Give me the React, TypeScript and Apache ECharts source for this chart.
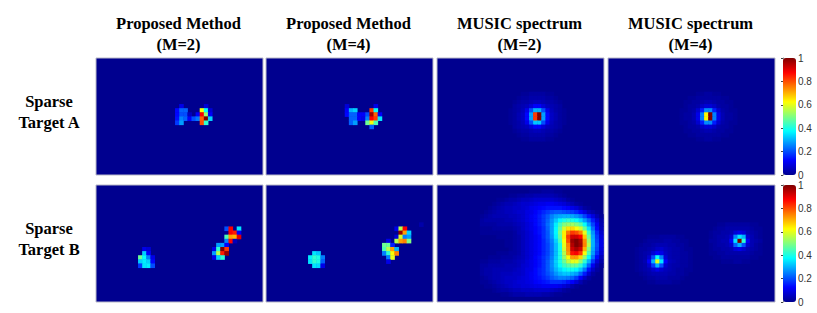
import React, { useEffect, useRef } from "react";
import * as echarts from "echarts";

const columnTitles = ["Proposed Method", "Proposed Method", "MUSIC spectrum", "MUSIC spectrum"];
const columnSubtitles = ["(M=2)", "(M=4)", "(M=2)", "(M=4)"];
const rowTitles = [["Sparse", "Target A"], ["Sparse", "Target B"]];
const COLS = 40;
const ROWS = 28;
const colIndex = Array.from({ length: COLS }, (_, i) => String(i));
const rowIndex = Array.from({ length: ROWS }, (_, i) => String(i));
const jet = ["#00008f", "#0000ff", "#0080ff", "#00ffff", "#80ff80", "#ffff00", "#ff8000", "#ff0000", "#800000"];

type Cell = [number, number, number];

// [column, row, value]
const proposedAM2: Cell[] = [
  [20, 11, 0.1], [26, 11, 0.08],
  [19, 12, 0.13], [20, 12, 0.22], [21, 12, 0.22], [25, 12, 0.62], [26, 12, 0.38], [27, 12, 0.08],
  [19, 13, 0.13], [20, 13, 0.2], [21, 13, 0.2], [22, 13, 0.05], [24, 13, 0.12], [25, 13, 0.88], [26, 13, 0.52], [27, 13, 0.12],
  [19, 14, 0.14], [20, 14, 0.25], [21, 14, 0.22], [22, 14, 0.12], [23, 14, 0.2], [24, 14, 0.24], [25, 14, 0.78], [26, 14, 1], [27, 14, 0.33],
  [19, 15, 0.18], [20, 15, 0.28], [25, 15, 0.8], [26, 15, 0.42],
];
const proposedAM4: Cell[] = [
  [19, 11, 0.08], [26, 11, 0.1],
  [19, 12, 0.12], [20, 12, 0.3], [21, 12, 0.33], [25, 12, 0.82], [26, 12, 0.38],
  [19, 13, 0.13], [20, 13, 0.22], [21, 13, 0.22], [22, 13, 0.12], [23, 13, 0.12], [24, 13, 0.2], [25, 13, 0.97], [26, 13, 0.78], [27, 13, 0.12],
  [20, 14, 0.22], [21, 14, 0.22], [22, 14, 0.12], [23, 14, 0.1], [24, 14, 0.25], [25, 14, 0.88], [26, 14, 0.82], [27, 14, 0.35],
  [20, 15, 0.22], [21, 15, 0.28], [24, 15, 0.48], [25, 15, 0.62], [26, 15, 0.45],
  [25, 16, 0.22],
];
const proposedBM2: Cell[] = [
  [31, 10, 0.2], [32, 10, 0.88], [34, 10, 0.35],
  [32, 11, 0.88], [33, 11, 0.85], [34, 11, 0.12],
  [31, 12, 0.45], [32, 12, 0.72], [33, 12, 0.7], [34, 12, 0.9],
  [31, 13, 0.25], [32, 13, 0.87], [33, 13, 0.05],
  [29, 14, 0.28], [30, 14, 0.28], [31, 14, 0.12],
  [28, 15, 0.1], [29, 15, 0.42], [30, 15, 1], [31, 15, 0.82],
  [28, 16, 0.28], [29, 16, 0.55], [30, 16, 0.85], [31, 16, 0.98],
  [28, 17, 0.1], [29, 17, 0.33], [30, 17, 0.42],
  [11, 15, 0.1], [12, 15, 0.08],
  [11, 16, 0.33], [12, 16, 0.12],
  [10, 17, 0.48], [11, 17, 0.38], [12, 17, 0.25], [13, 17, 0.1],
  [10, 18, 0.33], [11, 18, 0.36], [12, 18, 0.33], [13, 18, 0.13],
  [10, 19, 0.18], [11, 19, 0.35], [12, 19, 0.36], [13, 19, 0.2],
];
const proposedBM4: Cell[] = [
  [37, 9, 0.03],
  [31, 10, 0.1], [32, 10, 0.55], [33, 10, 0.88],
  [32, 11, 0.98], [33, 11, 0.72], [34, 11, 0.33],
  [31, 12, 0.08], [32, 12, 0.58], [33, 12, 0.25], [34, 12, 0.28],
  [29, 13, 0.1], [31, 13, 0.55], [32, 13, 0.72], [33, 13, 0.75], [34, 13, 0.5],
  [28, 14, 0.48], [29, 14, 0.48], [30, 14, 0.15],
  [28, 15, 0.45], [29, 15, 0.55], [30, 15, 0.72], [31, 15, 0.3],
  [28, 16, 0.25], [29, 16, 0.42], [30, 16, 0.62], [31, 16, 0.75],
  [29, 17, 0.25], [30, 17, 0.6],
  [29, 18, 0.1],
  [11, 16, 0.35], [12, 16, 0.32],
  [10, 17, 0.36], [11, 17, 0.42], [12, 17, 0.4], [13, 17, 0.25],
  [10, 18, 0.35], [11, 18, 0.42], [12, 18, 0.4], [13, 18, 0.22],
  [11, 19, 0.35], [12, 19, 0.34], [13, 19, 0.1],
];

// percent values; each block starts at the given column and row
const musicAM2Start = [17, 8];
const musicAM2 = [
  [0, 0, 0, 1, 1, 2, 2, 2, 2, 1, 1, 0, 0, 0],
  [0, 0, 1, 2, 2, 3, 3, 3, 3, 2, 2, 1, 0, 0],
  [0, 1, 2, 3, 3, 4, 5, 5, 4, 3, 3, 2, 1, 0],
  [0, 2, 3, 4, 5, 8, 12, 12, 8, 5, 4, 3, 2, 0],
  [1, 2, 3, 5, 10, 20, 30, 30, 20, 10, 5, 3, 2, 1],
  [1, 2, 4, 6, 13, 28, 82, 100, 28, 13, 6, 4, 2, 1],
  [1, 2, 4, 6, 13, 28, 82, 100, 28, 13, 6, 4, 2, 1],
  [1, 2, 3, 5, 10, 20, 32, 32, 20, 10, 5, 3, 2, 1],
  [0, 2, 3, 4, 5, 8, 12, 12, 8, 5, 4, 3, 2, 0],
  [0, 1, 2, 3, 3, 4, 5, 5, 4, 3, 3, 2, 1, 0],
  [0, 0, 1, 2, 2, 3, 3, 3, 3, 2, 2, 1, 0, 0],
  [0, 0, 0, 1, 1, 2, 2, 2, 2, 1, 1, 0, 0, 0],
];
const musicAM4Start = [17, 8];
const musicAM4 = [
  [0, 0, 0, 0, 1, 1, 2, 2, 1, 1, 0, 0, 0, 0],
  [0, 0, 1, 1, 2, 2, 2, 2, 2, 2, 1, 1, 0, 0],
  [0, 1, 1, 2, 2, 3, 4, 4, 3, 2, 2, 1, 1, 0],
  [0, 1, 2, 2, 3, 6, 8, 8, 6, 3, 2, 2, 1, 0],
  [1, 1, 2, 3, 7, 15, 26, 26, 15, 7, 3, 2, 1, 1],
  [1, 2, 2, 4, 10, 25, 63, 100, 25, 10, 4, 2, 2, 1],
  [1, 2, 2, 4, 10, 25, 63, 100, 25, 10, 4, 2, 2, 1],
  [1, 1, 2, 3, 7, 15, 26, 26, 15, 7, 3, 2, 1, 1],
  [0, 1, 2, 2, 3, 6, 8, 8, 6, 3, 2, 2, 1, 0],
  [0, 1, 1, 2, 2, 3, 4, 4, 3, 2, 2, 1, 1, 0],
  [0, 0, 1, 1, 2, 2, 2, 2, 2, 2, 1, 1, 0, 0],
  [0, 0, 0, 0, 1, 1, 2, 2, 1, 1, 0, 0, 0, 0],
];
const musicBM2Start = [10, 1];
const musicBM2 = [
  [0, 0, 0, 0, 0, 0, 0, 0, 0, 0, 0, 0, 1, 1, 1, 2, 2, 2, 1, 1, 0, 0, 0, 0, 0, 0, 0, 0, 0, 0],
  [0, 0, 0, 0, 0, 0, 0, 1, 1, 2, 2, 3, 3, 4, 4, 4, 4, 4, 3, 2, 1, 0, 0, 0, 0, 0, 0, 0, 0, 0],
  [0, 0, 0, 0, 1, 1, 2, 3, 3, 4, 5, 5, 6, 7, 7, 7, 7, 7, 6, 5, 4, 2, 1, 0, 0, 0, 0, 0, 0, 0],
  [0, 0, 0, 1, 2, 3, 4, 4, 5, 6, 7, 7, 8, 9, 10, 10, 11, 11, 10, 9, 8, 6, 4, 2, 1, 0, 0, 0, 0, 0],
  [0, 0, 1, 2, 3, 4, 5, 5, 6, 6, 7, 8, 10, 11, 12, 13, 14, 14, 14, 14, 13, 12, 10, 8, 5, 2, 1, 0, 0, 0],
  [0, 1, 2, 3, 4, 4, 5, 5, 6, 7, 7, 9, 10, 12, 14, 16, 18, 20, 21, 21, 20, 19, 18, 16, 13, 9, 5, 3, 1, 0],
  [1, 2, 3, 4, 4, 4, 4, 5, 5, 6, 7, 9, 11, 13, 15, 18, 21, 25, 28, 29, 30, 30, 29, 27, 24, 19, 14, 9, 4, 1],
  [2, 3, 3, 3, 3, 3, 4, 4, 5, 6, 7, 9, 11, 13, 15, 18, 22, 27, 32, 37, 40, 42, 40, 38, 34, 28, 22, 15, 8, 3],
  [2, 2, 2, 2, 3, 3, 3, 3, 4, 5, 6, 8, 10, 13, 15, 18, 23, 28, 36, 44, 50, 52, 53, 50, 46, 38, 28, 19, 11, 4],
  [1, 1, 1, 2, 2, 2, 2, 2, 3, 4, 6, 8, 10, 12, 14, 17, 22, 28, 37, 47, 58, 65, 66, 62, 58, 48, 35, 23, 13, 5],
  [1, 1, 1, 1, 1, 1, 1, 1, 2, 4, 5, 7, 9, 12, 14, 17, 21, 28, 37, 49, 64, 76, 82, 80, 75, 60, 43, 27, 16, 7],
  [0, 0, 0, 0, 1, 1, 1, 1, 2, 3, 5, 7, 9, 11, 13, 17, 21, 27, 36, 47, 64, 82, 92, 92, 88, 68, 48, 29, 18, 9],
  [0, 0, 0, 0, 0, 0, 1, 1, 2, 3, 5, 7, 9, 11, 13, 16, 20, 25, 33, 44, 62, 80, 97, 100, 96, 74, 52, 30, 19, 10],
  [0, 0, 0, 0, 0, 0, 1, 1, 2, 3, 5, 7, 9, 11, 13, 16, 19, 24, 31, 40, 60, 75, 95, 100, 97, 75, 55, 30, 20, 10],
  [0, 0, 0, 0, 0, 0, 0, 1, 2, 3, 5, 7, 9, 11, 13, 16, 19, 24, 31, 40, 58, 74, 92, 96, 92, 70, 50, 29, 19, 9],
  [0, 0, 0, 0, 1, 1, 1, 2, 2, 3, 5, 7, 9, 11, 13, 16, 19, 24, 31, 40, 55, 72, 86, 88, 82, 62, 45, 28, 17, 8],
  [0, 0, 1, 1, 1, 2, 2, 2, 3, 4, 5, 7, 9, 12, 14, 17, 20, 25, 32, 40, 52, 62, 72, 72, 66, 52, 38, 24, 13, 5],
  [1, 1, 2, 2, 2, 3, 3, 3, 4, 5, 6, 8, 10, 12, 14, 17, 21, 26, 33, 40, 48, 56, 60, 60, 52, 42, 30, 18, 8, 3],
  [2, 2, 3, 3, 3, 3, 4, 4, 4, 5, 7, 8, 10, 12, 14, 17, 21, 26, 32, 38, 43, 46, 48, 47, 42, 33, 22, 11, 4, 1],
  [2, 3, 3, 4, 4, 4, 4, 4, 5, 6, 7, 9, 10, 13, 15, 17, 21, 25, 30, 34, 37, 39, 39, 37, 32, 24, 14, 6, 2, 0],
  [2, 3, 3, 4, 4, 5, 5, 5, 6, 6, 7, 9, 11, 13, 15, 17, 20, 23, 27, 30, 32, 32, 30, 28, 22, 15, 7, 2, 0, 0],
  [1, 2, 3, 4, 4, 5, 6, 6, 6, 7, 8, 9, 11, 13, 14, 16, 18, 21, 23, 25, 25, 24, 22, 18, 12, 6, 2, 0, 0, 0],
  [1, 1, 2, 3, 4, 5, 6, 6, 7, 8, 8, 9, 10, 12, 13, 14, 15, 17, 17, 17, 16, 14, 12, 8, 4, 1, 0, 0, 0, 0],
  [0, 1, 1, 2, 3, 4, 5, 6, 7, 7, 8, 8, 9, 10, 10, 11, 11, 11, 11, 10, 8, 6, 3, 1, 0, 0, 0, 0, 0, 0],
  [0, 0, 0, 1, 2, 3, 3, 4, 5, 5, 6, 6, 6, 7, 7, 7, 7, 6, 5, 4, 2, 1, 0, 0, 0, 0, 0, 0, 0, 0],
  [0, 0, 0, 0, 0, 1, 1, 2, 3, 3, 3, 4, 4, 4, 4, 3, 3, 2, 1, 1, 0, 0, 0, 0, 0, 0, 0, 0, 0, 0],
];
const musicBM4LeftStart = [6, 12];
const musicBM4Left = [
  [0, 0, 0, 1, 1, 1, 2, 2, 2, 2, 1, 1, 0, 0],
  [0, 0, 1, 2, 2, 2, 2, 3, 3, 2, 2, 1, 1, 0],
  [0, 1, 2, 2, 3, 4, 4, 4, 3, 3, 2, 2, 1, 0],
  [1, 2, 2, 3, 4, 6, 7, 5, 4, 3, 3, 2, 1, 1],
  [1, 2, 3, 4, 8, 12, 10, 6, 4, 3, 3, 2, 2, 1],
  [1, 2, 3, 7, 20, 38, 25, 8, 4, 3, 3, 2, 2, 1],
  [1, 2, 4, 12, 30, 60, 35, 12, 5, 4, 3, 2, 2, 1],
  [1, 2, 3, 7, 18, 30, 20, 7, 4, 3, 3, 2, 2, 1],
  [1, 2, 3, 4, 7, 10, 7, 5, 4, 3, 2, 2, 1, 1],
  [0, 1, 2, 3, 4, 4, 4, 4, 3, 3, 2, 2, 1, 0],
  [0, 0, 1, 2, 2, 3, 3, 3, 2, 2, 2, 1, 0, 0],
  [0, 0, 0, 1, 1, 2, 2, 2, 2, 1, 1, 0, 0, 0],
];
const musicBM4RightStart = [24, 9];
const musicBM4Right = [
  [0, 0, 1, 1, 2, 2, 2, 2, 2, 2, 1, 1, 0],
  [0, 1, 2, 2, 3, 3, 3, 3, 3, 3, 2, 1, 1],
  [1, 2, 2, 3, 3, 4, 8, 10, 8, 4, 3, 2, 1],
  [1, 2, 3, 3, 4, 7, 25, 35, 30, 7, 4, 2, 1],
  [2, 2, 3, 4, 4, 12, 35, 100, 42, 12, 4, 3, 2],
  [1, 2, 3, 3, 4, 7, 22, 30, 20, 7, 4, 2, 1],
  [1, 2, 2, 3, 3, 4, 8, 10, 7, 4, 3, 2, 1],
  [1, 1, 2, 2, 3, 3, 3, 3, 3, 3, 2, 1, 1],
  [0, 1, 1, 2, 2, 2, 2, 2, 2, 2, 1, 1, 0],
  [0, 0, 0, 1, 1, 1, 2, 2, 1, 1, 0, 0, 0],
];

const fromBlock = (start: number[], rows: number[][]): Cell[] => {
  const out: Cell[] = [];
  rows.forEach((row, r) =>
    row.forEach((v, c) => {
      if (v > 0) out.push([start[0] + c, start[1] + r, v / 100]);
    })
  );
  return out;
};

const panelData: Cell[][] = [
  proposedAM2,
  proposedAM4,
  fromBlock(musicAM2Start, musicAM2),
  fromBlock(musicAM4Start, musicAM4),
  proposedBM2,
  proposedBM4,
  fromBlock(musicBM2Start, musicBM2),
  [...fromBlock(musicBM4LeftStart, musicBM4Left), ...fromBlock(musicBM4RightStart, musicBM4Right)],
];

// layout
const PITCH = 4.11;
const PANEL_W = 167;
const PANEL_H = 117;
const panelLefts = [96, 266, 437, 608];
const panelTops = [58, 185];
const gridLefts = [
  [97.2, 266.9, 438.8, 609.8],
  [97.2, 267.2, 439, 610.3],
];
const gridTops = [59.1, 185.6];
const BAR_LEFT = 783;
const BAR_W = 13;
const serif = "'Liberation Serif', 'Times New Roman', serif";
const sans = "'Liberation Sans', Arial, sans-serif";
const titleFont = `bold 16.5px ${serif}`;

function buildOption() {
  const grid: any[] = [];
  const xAxis: any[] = [];
  const yAxis: any[] = [];
  const series: any[] = [];
  const graphic: any[] = [];

  panelTops.forEach((top, r) => {
    panelLefts.forEach((left, c) => {
      const i = r * 4 + c;
      graphic.push({
        type: "rect",
        z: 0,
        shape: { x: left, y: top, width: PANEL_W, height: PANEL_H },
        style: { fill: jet[0], stroke: "#b9b9c8", lineWidth: 1 },
      });
      grid.push({
        left: gridLefts[r][c],
        top: gridTops[r],
        width: COLS * PITCH,
        height: ROWS * PITCH,
      });
      xAxis.push({ type: "category", gridIndex: i, data: colIndex, show: false });
      yAxis.push({ type: "category", gridIndex: i, data: rowIndex, inverse: true, show: false });
      series.push({
        type: "heatmap",
        xAxisIndex: i,
        yAxisIndex: i,
        data: panelData[i],
        silent: true,
        itemStyle: { borderWidth: 0 },
        emphasis: { disabled: true },
      });
    });
  });

  // colour-bar tick axes
  panelTops.forEach((top, r) => {
    const i = 8 + r;
    grid.push({ left: BAR_LEFT, top, width: BAR_W, height: PANEL_H });
    xAxis.push({ type: "value", gridIndex: i, show: false, min: 0, max: 1 });
    yAxis.push({
      type: "value",
      gridIndex: i,
      position: "right",
      min: 0,
      max: 1,
      interval: 0.2,
      splitLine: { show: false },
      axisLine: { show: true, lineStyle: { color: "#8a8a8a", width: 1 } },
      axisTick: { show: true, inside: true, length: 2, lineStyle: { color: "#444" } },
      axisLabel: { color: "#333", fontFamily: sans, fontSize: 10, margin: 2 },
    });
  });

  columnTitles.forEach((t, c) => {
    const cx = panelLefts[c] + PANEL_W / 2 - 1;
    graphic.push({
      type: "text", x: cx, y: 23, z: 5,
      style: { text: t, fill: "#000", font: titleFont, textAlign: "center", textVerticalAlign: "middle" },
    });
    graphic.push({
      type: "text", x: cx, y: 44, z: 5,
      style: { text: columnSubtitles[c], fill: "#000", font: titleFont, textAlign: "center", textVerticalAlign: "middle" },
    });
  });
  rowTitles.forEach((lines, r) => {
    lines.forEach((t, l) => {
      graphic.push({
        type: "text", x: 49, y: (r === 0 ? 101 : 228) + l * 21, z: 5,
        style: { text: t, fill: "#000", font: titleFont, textAlign: "center", textVerticalAlign: "middle" },
      });
    });
  });

  const visualMap = panelTops.map((top, r) => ({
    type: "continuous",
    seriesIndex: [0, 1, 2, 3].map((k) => r * 4 + k),
    min: 0,
    max: 1,
    left: BAR_LEFT,
    top,
    itemWidth: BAR_W,
    itemHeight: PANEL_H,
    padding: 0,
    calculable: false,
    hoverLink: false,
    showLabel: false,
    inRange: { color: jet },
  }));

  return { animation: false, backgroundColor: "#fff", grid, xAxis, yAxis, series, visualMap, graphic };
}

export default function App() {
  const ref = useRef<HTMLDivElement>(null);
  useEffect(() => {
    document.body.style.margin = "0";
    const chart = echarts.init(ref.current!, undefined, { renderer: "svg" });
    chart.setOption(buildOption() as any);
    return () => chart.dispose();
  }, []);
  return <div ref={ref} style={{ width: 817, height: 313 }} />;
}
